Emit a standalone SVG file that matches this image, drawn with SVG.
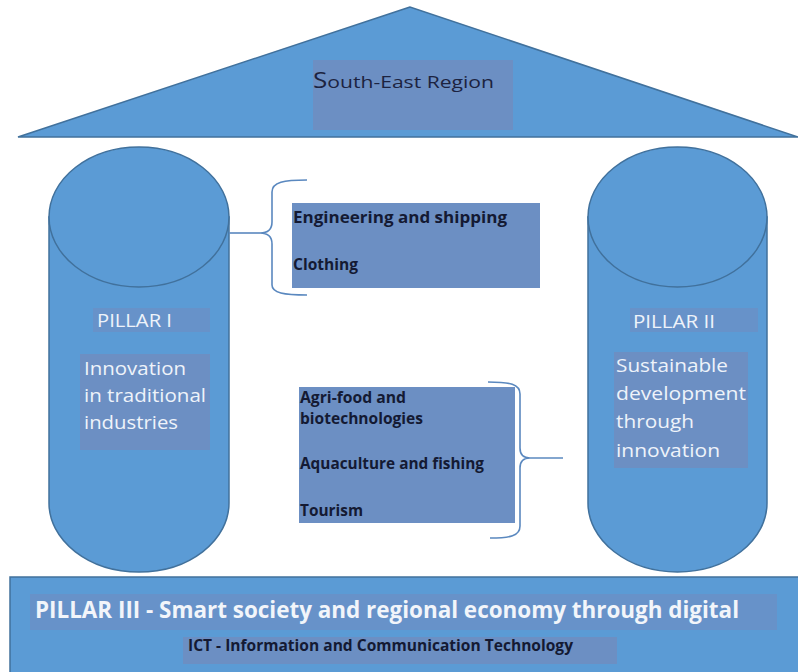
<svg xmlns="http://www.w3.org/2000/svg" width="798" height="672" viewBox="0 0 798 672">
<defs>
<style>
.shape{fill:#5b9bd5;stroke:#41719c;stroke-width:1.5}
.lbl{fill:#6c8fc3}
.lbl2{fill:#6792c9}
.wt{font-family:"Open Sans","Noto Sans","Liberation Sans",sans-serif;font-size:19px;fill:#eef3fa}
.dk{font-family:"Open Sans","Noto Sans","Liberation Sans",sans-serif;font-size:16.5px;font-weight:bold;fill:#141a33}
.dks{font-family:"Open Sans","Noto Sans","Liberation Sans",sans-serif;font-size:15.5px;font-weight:bold;fill:#141a33}
.brace{fill:none;stroke:#5a88bf;stroke-width:1.6}
</style>
</defs>
<rect width="798" height="672" fill="#ffffff"/>

<g id="roof">
<polygon class="shape" points="410,7 18,137 798,137"/>
<rect class="lbl" x="313" y="60" width="200" height="70"/>
<text x="313" y="88" textLength="181" lengthAdjust="spacingAndGlyphs" font-family="Open Sans, Noto Sans, Liberation Sans, sans-serif" font-size="17" fill="#1c2340"><tspan font-size="21">S</tspan>outh-East Region</text>
</g>

<g id="pillar1">
<path class="shape" d="M49,217 V503 A90,69 0 0 0 229,503 V217 Z"/>
<ellipse class="shape" cx="139" cy="217" rx="90" ry="70"/>
<rect class="lbl2" x="93" y="308" width="117" height="24"/>
<text class="wt" x="97" y="327" textLength="75" lengthAdjust="spacingAndGlyphs">PILLAR I</text>
<rect class="lbl" x="80" y="354" width="130" height="96"/>
<text class="wt" x="84" y="375" textLength="102" lengthAdjust="spacingAndGlyphs">Innovation</text>
<text class="wt" x="84" y="402" textLength="122" lengthAdjust="spacingAndGlyphs">in traditional</text>
<text class="wt" x="84" y="429" textLength="94" lengthAdjust="spacingAndGlyphs">industries</text>
</g>

<g id="pillar2">
<path class="shape" d="M588,217 V503 A89.5,69 0 0 0 767,503 V217 Z"/>
<ellipse class="shape" cx="677.5" cy="217" rx="89.5" ry="70"/>
<rect class="lbl2" x="630" y="308" width="128" height="24"/>
<text class="wt" x="633" y="328" textLength="82" lengthAdjust="spacingAndGlyphs">PILLAR II</text>
<rect class="lbl" x="614" y="352" width="134" height="116"/>
<text class="wt" x="616" y="372" textLength="112" lengthAdjust="spacingAndGlyphs">Sustainable</text>
<text class="wt" x="616" y="400" textLength="130" lengthAdjust="spacingAndGlyphs">development</text>
<text class="wt" x="616" y="428" textLength="78" lengthAdjust="spacingAndGlyphs">through</text>
<text class="wt" x="616" y="457" textLength="104" lengthAdjust="spacingAndGlyphs">innovation</text>
</g>

<g id="sectors1">
<rect class="lbl" x="292" y="203" width="248" height="85"/>
<text class="dk" x="293" y="223" textLength="214" lengthAdjust="spacingAndGlyphs">Engineering and shipping</text>
<text class="dk" x="293" y="270" textLength="65" lengthAdjust="spacingAndGlyphs">Clothing</text>
</g>

<g id="sectors2">
<rect class="lbl" x="299" y="387" width="216" height="136"/>
<text class="dks" x="300" y="403" textLength="106" lengthAdjust="spacingAndGlyphs">Agri-food and</text>
<text class="dks" x="300" y="424" textLength="123" lengthAdjust="spacingAndGlyphs">biotechnologies</text>
<text class="dk" x="300" y="469" textLength="184" lengthAdjust="spacingAndGlyphs">Aquaculture and fishing</text>
<text class="dk" x="300" y="516" textLength="63" lengthAdjust="spacingAndGlyphs">Tourism</text>
</g>

<g id="pillar3">
<rect class="shape" x="10" y="577" width="800" height="110"/>
<rect class="lbl2" x="30" y="594" width="747" height="36"/>
<text x="35" y="618" textLength="704" lengthAdjust="spacingAndGlyphs" font-family="Open Sans, Noto Sans, Liberation Sans, sans-serif" font-size="24" font-weight="bold" fill="#f2f5fa">PILLAR III - Smart society and regional economy through digital</text>
<rect class="lbl" x="183" y="637" width="434" height="27"/>
<text class="dk" x="188" y="651" textLength="385" lengthAdjust="spacingAndGlyphs">ICT - Information and Communication Technology</text>
</g>

<g id="connectors">
<path class="brace" d="M307,180 C284,180 272,182 272,192 V222 C272,230 268,233 260,233 C268,233 272,236 272,244 V285 C272,293 284,295 307,295"/>
<path class="brace" d="M229,233 H260"/>
<path class="brace" d="M488,382 C510,382 520,384 520,394 V448 C520,455 523,458 530,458 C523,458 520,461 520,468 V526 C520,536 510,538 490,538"/>
<path class="brace" d="M530,458 H563"/>
</g>
</svg>
